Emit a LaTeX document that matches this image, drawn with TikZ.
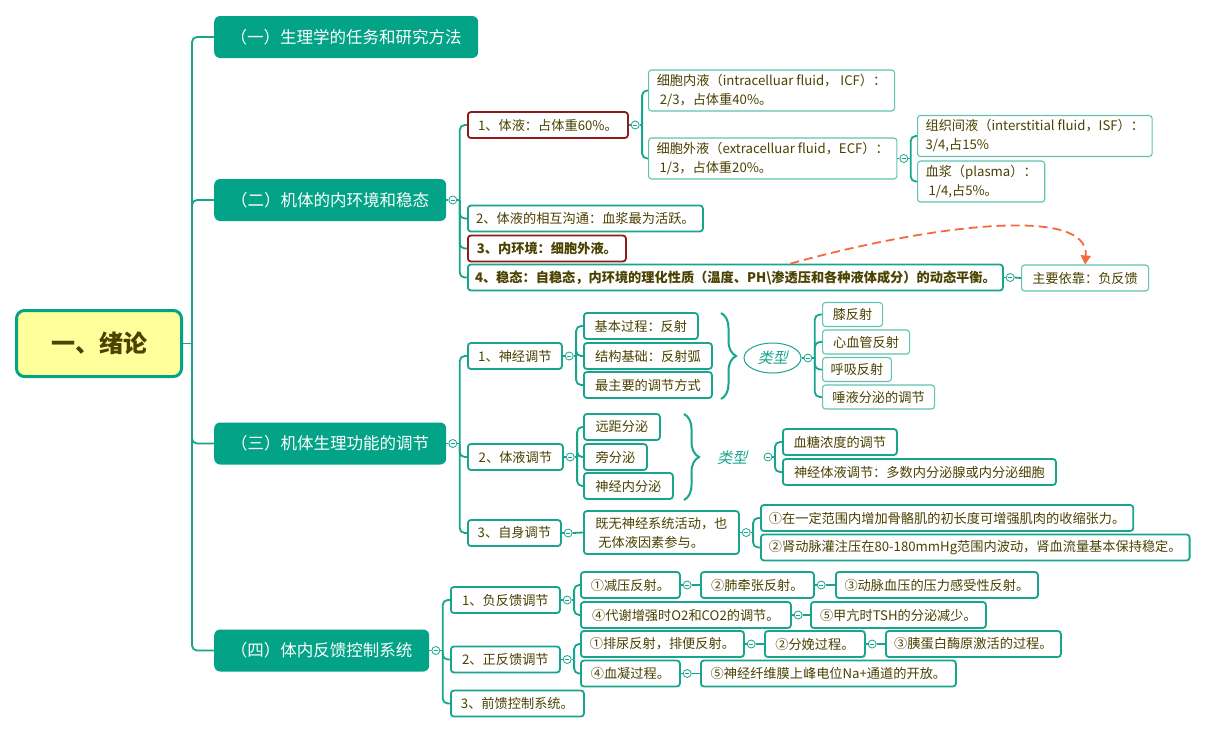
\documentclass[tikz,border=0pt]{standalone}
\usepackage{fontspec}
\setmainfont{Noto Sans CJK SC}
\newfontfamily\slantfont{Noto Sans CJK SC}[FakeSlant=0.25]
\usetikzlibrary{positioning,shapes.geometric,decorations.pathreplacing,arrows.meta}

\definecolor{mmteal}{HTML}{03A387}
\definecolor{mmline}{HTML}{17A68D}
\definecolor{mmlight}{HTML}{62C4AF}
\definecolor{mmred}{HTML}{8C1C1C}
\definecolor{mmtext}{HTML}{4B4100}
\definecolor{mmroot}{HTML}{FFFF9C}
\definecolor{mmorange}{HTML}{F56A3A}

\tikzset{
	every node/.style={text=mmtext, font=\fontsize{13.2}{19}\selectfont},
	root/.style={draw=mmteal, line width=3, fill=mmroot, rounded corners=8, minimum width=165, minimum height=66, font=\fontsize{24}{28}\selectfont\bfseries},
	topic/.style={fill=mmteal, text=white, rounded corners=6, minimum height=42, anchor=west, inner xsep=12, font=\fontsize{16.5}{20}\selectfont},
	sub/.style={draw=mmline, line width=1.8, fill=white, rounded corners=3, minimum height=26, anchor=west, inner xsep=8},
	hot/.style={sub, draw=mmred},
	leaf/.style={sub, draw=mmlight, line width=1.1},
	strong/.style={font=\fontsize{13.2}{19}\selectfont\bfseries},
	kind/.style={text=mmline, font=\slantfont\fontsize{15}{18}\selectfont},
	fold/.style={circle, draw=mmline, fill=white, line width=.8, minimum size=8, inner sep=0,
		path picture={\draw[mmline, line width=.7] ([xshift=-2.2pt]path picture bounding box.center) -- ([xshift=2.2pt]path picture bounding box.center);}},
	link/.style={draw=mmline, line width=1.8, rounded corners=5},
	bracket/.style={draw=mmline, line width=2, decorate, decoration={brace, amplitude=15}},
}

\begin{document}
\begin{tikzpicture}[x=1pt, y=-1pt, >=stealth]
	\path[fill=white, use as bounding box] (0,0) rectangle (1205,732);

	\node[root] (root) at (99,343.5) {一、绪论};

	\foreach \n/\y/\w/\l in {s1/37/264/（一）生理学的任务和研究方法, s2/200/232/（二）机体的内环境和稳态, s3/443.5/232/（三）机体生理功能的调节, s4/650.5/215/（四）体内反馈控制系统}
	\node[topic, minimum width=\w] (\n) at (214,\y) {\l};

	\node[hot, minimum width=160] (b1) at (467,125) {1、体液：占体重60\%。};
	\node[sub, minimum width=235] (b2) at (467,218.5) {2、体液的相互沟通：血浆最为活跃。};
	\node[hot, strong, minimum width=158] (b3) at (467,248.5) {3、内环境：细胞外液。};
	\node[sub, strong, minimum width=535, inner xsep=6] (b4) at (467,277.5) {4、稳态：自稳态，内环境的理化性质（温度、PH\textbackslash 渗透压和各种液体成分）的动态平衡。};
	\node[leaf, minimum width=246, minimum height=41, align=left] (b11) at (648,90.5) {细胞内液（intracelluar fluid， ICF）：\\\hspace{3pt}2/3，占体重40\%。};
	\node[leaf, minimum width=248, minimum height=41, align=left] (b12) at (648,158.5) {细胞外液（extracelluar fluid，ECF）：\\\hspace{3pt}1/3，占体重20\%。};
	\node[leaf, minimum width=233, minimum height=41, align=left] (b121) at (917,136) {组织间液（interstitial fluid，ISF）：\\3/4,占15\%};
	\node[leaf, minimum width=126, minimum height=41, align=left] (b122) at (917,181.5) {血浆（plasma）：\\\hspace{3pt}1/4,占5\%。};
	\node[leaf, minimum width=127] (b41) at (1021,278) {主要依靠：负反馈};

	\foreach \n/\y/\w/\l in {c1/356/94/1、神经调节, c2/457/95/2、体液调节, c3/533/93/3、自身调节}
	\node[sub, minimum width=\w] (\n) at (467,\y) {\l};
	\foreach \n/\y/\w/\l in {c11/326/114/基本过程：反射, c12/356/128/结构基础：反射弧, c13/385/128/最主要的调节方式, c21/427/76/远距分泌, c22/457/63/旁分泌, c23/486/89/神经内分泌}
	\node[sub, minimum width=\w] (\n) at (583,\y) {\l};
	\node[ellipse, draw=mmline, line width=1, minimum width=57, minimum height=30, inner sep=1, kind] (k1) at (772.5,358) {类型};
	\node[kind] (k2) at (732,458) {类型};
	\foreach \n/\y/\w/\l in {d1/314.5/60/膝反射, d2/342/87/心血管反射, d3/369.5/63/呼吸反射, d4/397/112/唾液分泌的调节}
	\node[leaf, minimum width=\w, minimum height=24] (\n) at (822,\y) {\l};
	\foreach \n/\y/\w/\l in {e1/442/114/血糖浓度的调节, e2/472/273/神经体液调节：多数内分泌腺或内分泌细胞}
	\node[sub, minimum width=\w] (\n) at (782,\y) {\l};
	\node[sub, minimum width=155, minimum height=43, align=left] (c31) at (583,532.5) {既无神经系统活动，也\\\hspace{3pt}无体液因素参与。};
	\node[sub, minimum width=368] (g1) at (760,518) {①在一定范围内增加骨骼肌的初长度可增强肌肉的收缩张力。};
	\node[sub, minimum width=427] (g2) at (760,547.5) {②肾动脉灌注压在80-180mmHg范围内波动，肾血流量基本保持稳定。};

	\foreach \n/\y/\w/\l in {h1/600/109/1、负反馈调节, h2/659.5/109/2、正反馈调节, h3/703.5/133/3、前馈控制系统。}
	\node[sub, minimum width=\w] (\n) at (450,\y) {\l};
	\node[sub, minimum width=99] (h11) at (580,585) {①减压反射。};
	\node[sub, minimum width=113] (h12) at (700,585) {②肺牵张反射。};
	\node[sub, minimum width=202] (h13) at (835,585) {③动脉血压的压力感受性反射。};
	\node[sub, minimum width=210] (h14) at (580,615) {④代谢增强时O2和CO2的调节。};
	\node[sub, minimum width=175] (h15) at (810,615) {⑤甲亢时TSH的分泌减少。};
	\node[sub, minimum width=163] (h21) at (580,644) {①排尿反射，排便反射。};
	\node[sub, minimum width=100] (h22) at (764,644) {②分娩过程。};
	\node[sub, minimum width=175] (h23) at (885,644) {③胰蛋白酶原激活的过程。};
	\node[sub, minimum width=99] (h24) at (580,673.5) {④血凝过程。};
	\node[sub, minimum width=255] (h25) at (700,673.5) {⑤神经纤维膜上峰电位Na+通道的开放。};

	\foreach \p in {s2,s3,s4,b1,b12,b4,c1,c2,c3,c31,k1,h1,h2,h11,h12,h14,h21,h22,h24}
	\node[fold, right=2pt of \p] (f\p) {};
	\node[fold] (fk2) at (768,457) {};

	\draw[link] (root.east) -- ++(9,0) coordinate (hub);
	\foreach \s in {s1,s2,s3,s4}
	\draw[link] (hub) |- (\s.west);

	\foreach \p in {s2,s3,s4,b1,b12,b4,c1,c2,c3,c31,k1,h1,h2,h11,h12,h14,h21,h22,h24}
	\draw[link] (\p.east) -- (f\p.west);

	\foreach \f/\kids in {fs2/{b1,b2,b3,b4}, fb1/{b11,b12}, fb12/{b121,b122}, fs3/{c1,c2,c3}, fc1/{c11,c12,c13}, fk1/{d1,d2,d3,d4}, fc2/{c21,c22,c23}, fk2/{e1,e2}, fc31/{g1,g2}, fs4/{h1,h2,h3}, fh1/{h11,h14}, fh2/{h21,h24}}{
		\draw[link] (\f.east) -- ++(2.5,0) coordinate (hub);
		\foreach \k in \kids
		\draw[link] (hub) |- (\k.west);
	}

	\foreach \a/\b in {fb4/b41, fc3/c31, fh11/h12, fh12/h13, fh14/h15, fh21/h22, fh22/h23, fh24/h25}
	\draw[link] (\a.east) -- (\b.west);

	\draw[bracket] (721,313) -- (721,399);
	\draw[bracket] (684,414) -- (684,500);

	\draw[mmorange, line width=1.8, dash pattern=on 9pt off 5pt, -{Triangle[length=9pt, width=10pt]}] ([xshift=55pt]b4.north) .. controls (930,225) and (1090,205) .. (b41.north);
\end{tikzpicture}
\end{document}
